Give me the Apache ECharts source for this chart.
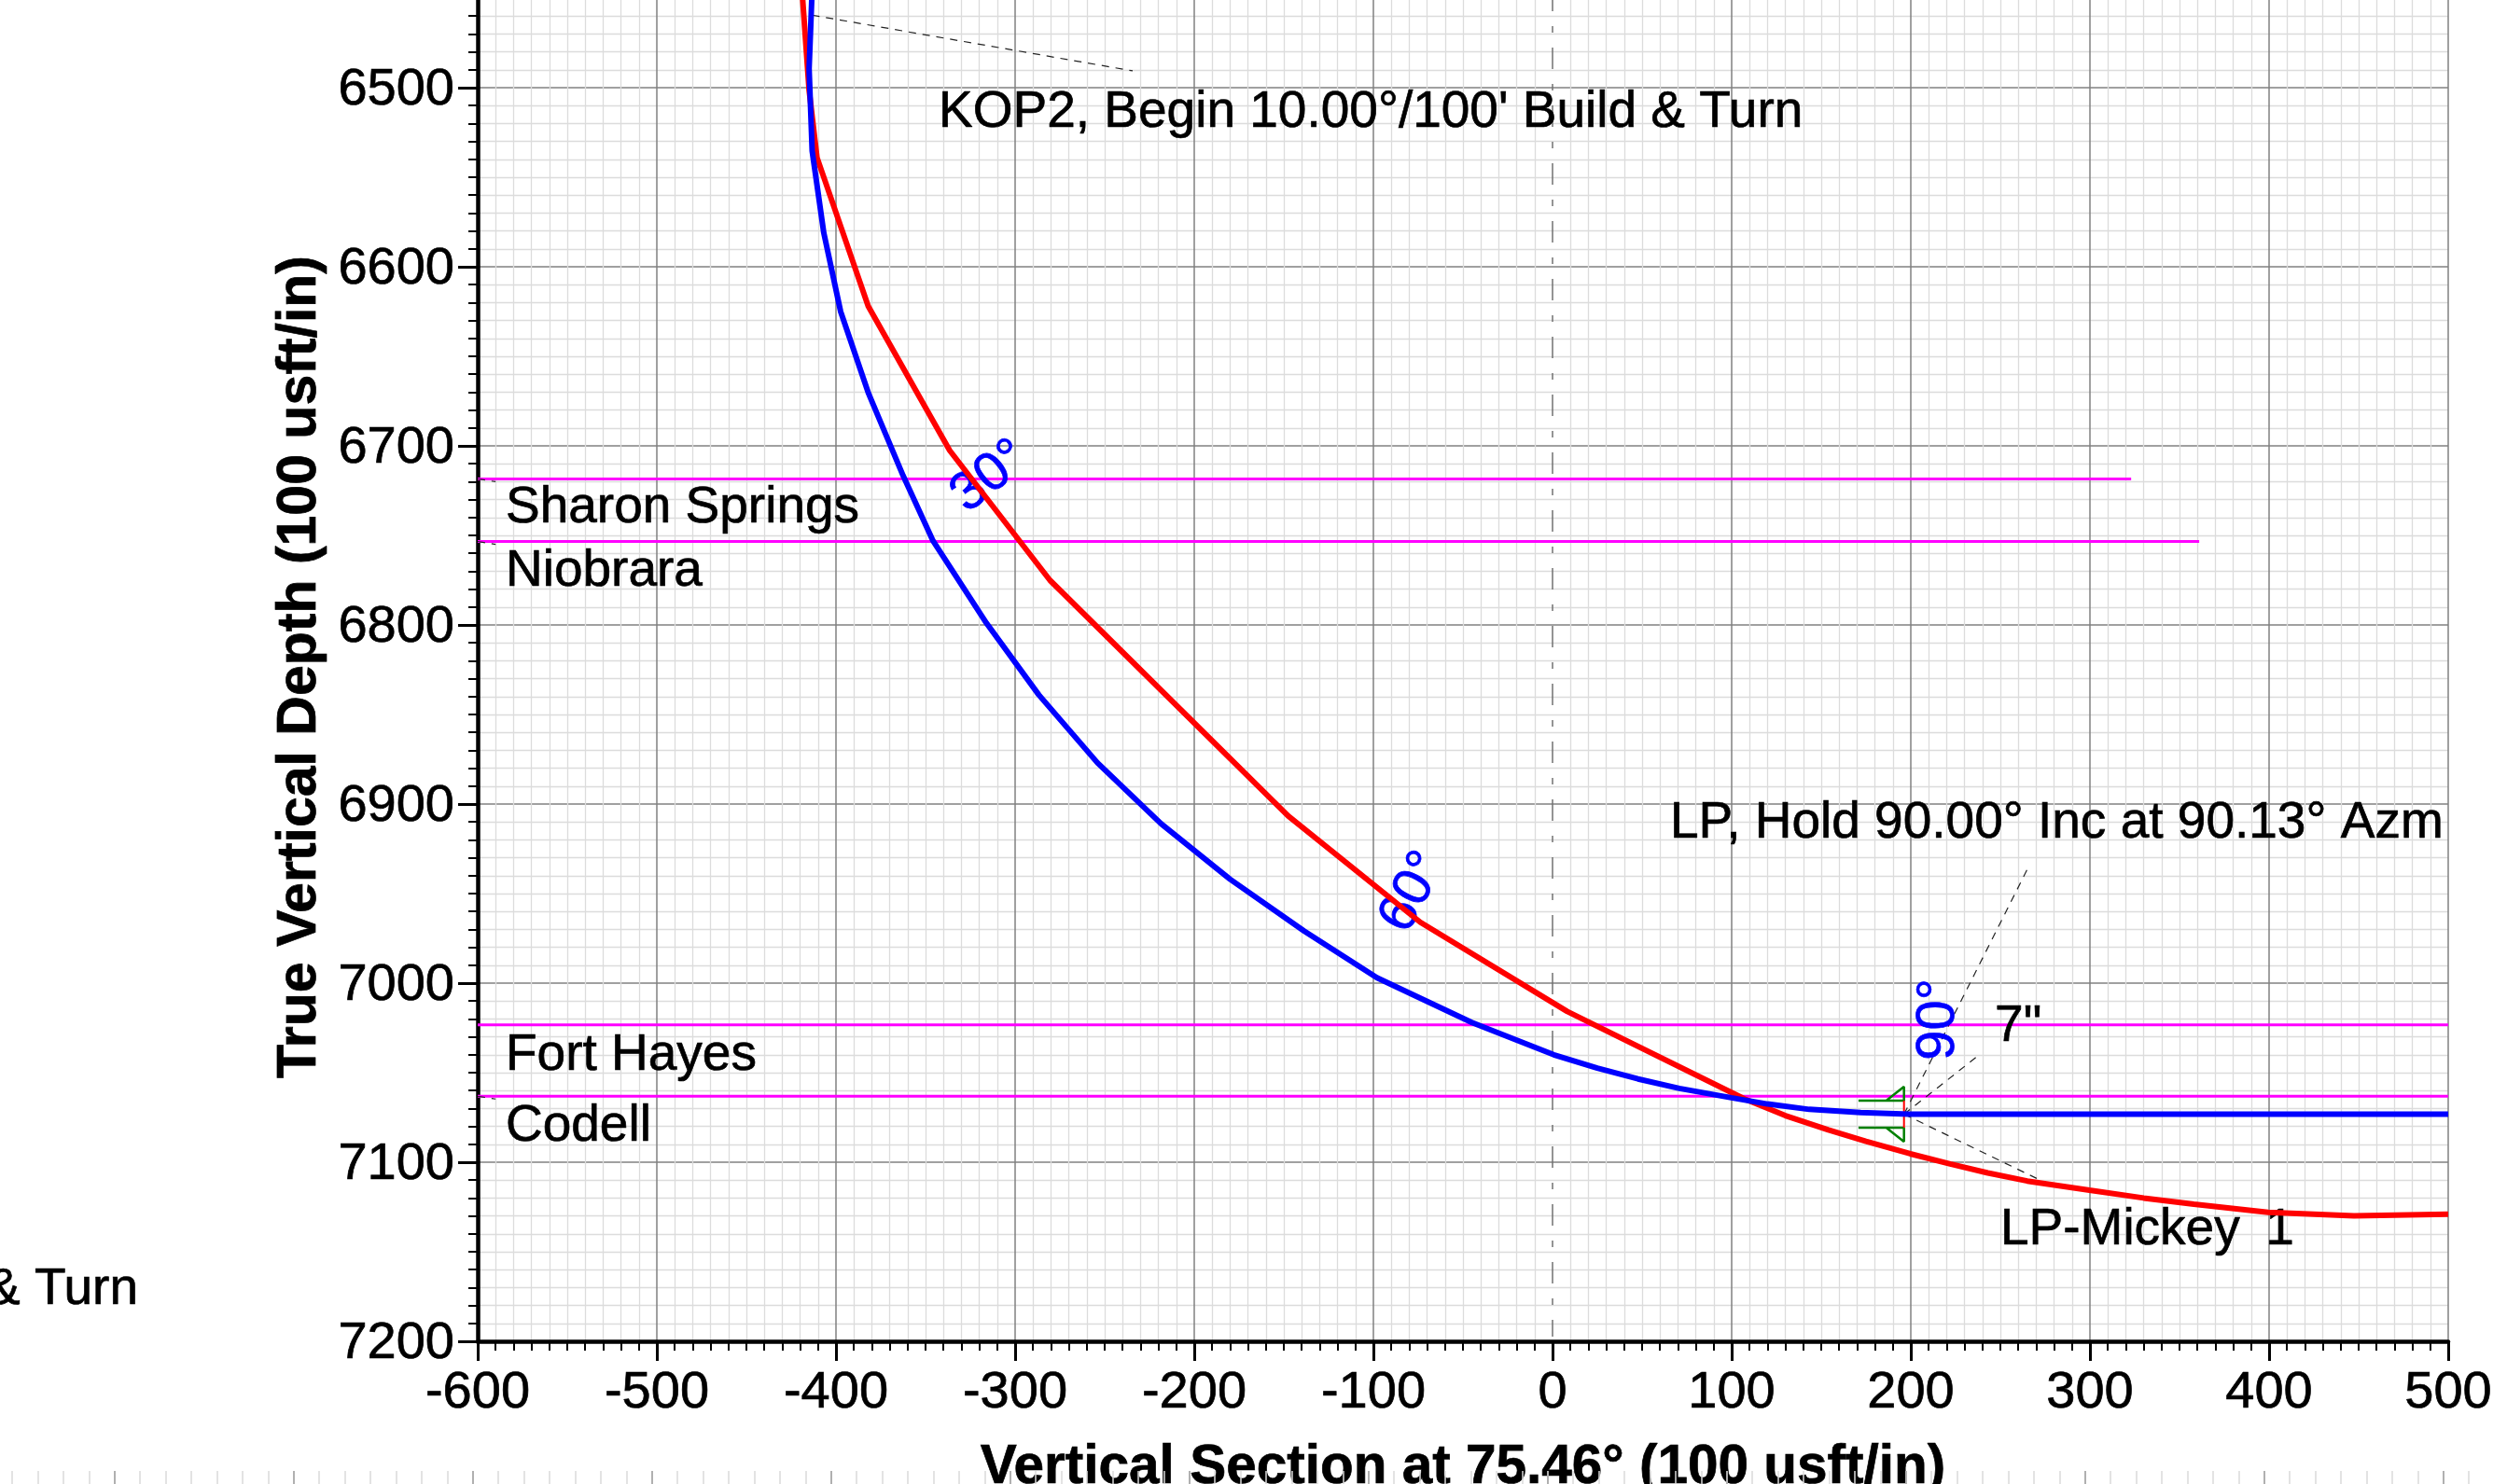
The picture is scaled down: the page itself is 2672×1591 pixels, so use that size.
<!DOCTYPE html>
<html><head><meta charset="utf-8">
<style>html,body{margin:0;padding:0;background:#fff}#c{width:2672px;height:1591px}</style>
<script src="https://cdn.jsdelivr.net/npm/echarts@6/dist/echarts.min.js"></script>
</head><body><div id="c"></div>
<script>
const xTitle = "Vertical Section at 75.46° (100 usft/in)";
const yTitle = "True Vertical Depth (100 usft/in)";
const blueWell = [[-413.3,6445],[-415,6489.4],[-413.3,6535.3],[-406.8,6581.1],[-397.4,6625],[-381.8,6670.8],[-362.5,6716.7],[-345.8,6753.1],[-316,6799],[-286.8,6839],[-254,6877],[-218.5,6911],[-180,6942],[-138.6,6971],[-98,6997],[-45,7022],[0.7,7040],[25,7047.5],[47.7,7053.5],[70.8,7058.8],[99.8,7064],[120,7067.5],[143.3,7070.5],[172,7072.3],[199,7073.2],[500,7073.2]];
const redWell = [[-419,6445],[-415,6501.4],[-410.6,6539],[-382,6622],[-336.5,6702.6],[-280.6,6775],[-147.5,6906.7],[-73.8,6966],[8.2,7015.8],[107,7064.6],[130,7074],[154,7082],[175,7088.3],[199.7,7095.3],[222,7101],[243,7106],[265,7110.5],[299.7,7115.6],[330,7120],[358,7123.4],[399.5,7128],[447.4,7130],[500,7129]];
const formationNames = ["Sharon Springs","Niobrara","Fort Hayes","Codell"];
const formationDepths = [6718.5,6753.4,7023.3,7063.2];
const formationEnds = [323,361,500,500];
const formationLabelY = [6734.6,6770,7040.6,7080.2];
const formationLabelX = -584.4;
const leaders = [
  [[-413.3,6459.5],[-234.4,6490.6]],
  [[196.2,7073.2],[266.3,6933.9]],
  [[196.2,7073.2],[237.5,7040.6]],
  [[196.2,7073.2],[272,7109.9]],
  [[-600,6718.5],[-590,6720]],
  [[-600,6753.4],[-590,6755]],
  [[-600,7063.2],[-590,7064.7]]
];
const notes = [
  ["KOP2, Begin 10.00°/100' Build & Turn",-342.7,6514,"left"],
  ["LP, Hold 90.00° Inc at 90.13° Azm",65.6,6910.9,"left"],
  ['7"',246.9,7024.5,"left"],
  ["LP-Mickey\u20021",250,7138,"left"],
  ["& Turn",-789.6,7171.3,"right"]
];
const inclNotes = [["30°",-314,6717.2,38],["60°",-77.9,6949.2,62],["90°",215.5,7020.3,90]];
const zeroLine = [[0,6445.3],[0,7197.4]];
const casingGreen = [
  [[170.8,7065.6],[196.2,7065.6],[196.2,7057.8],[186.3,7065.6]],
  [[170.8,7080.7],[196.2,7080.7],[196.2,7088.5],[186.3,7080.7]]
];
const casingRed = [[196.2,7065.6],[196.2,7080.7]];
const xRange = [-600,500], yRange = [6400,7200];
const xMajorColors = ['#808080','#808080','#808080','#808080','#808080','#808080','transparent','#808080','#808080','#808080','#808080','#808080'];

const FONT = "Liberation Sans";
const chart = echarts.init(document.getElementById('c'), null, {renderer:'canvas'});
const silent = {silent:true, animation:false};
const lineS = (data,o)=>Object.assign({type:'line',data,symbol:'none',xAxisIndex:0,yAxisIndex:0,clip:true,smooth:false},silent,o);
const textItem = (t,x,y,align,color,rot,size)=>({value:[x,y],label:{show:true,position:'inside',formatter:()=>t,align,verticalAlign:'middle',rotate:rot||0,color,fontFamily:FONT,fontSize:size||55,textBorderColor:color,textBorderWidth:0.7}});
const series = [];
formationDepths.forEach((d,i)=>series.push(lineS([[xRange[0],d],[formationEnds[i],d]],{z:3,lineStyle:{color:'#ff00ff',width:3}})));
series.push(lineS(zeroLine,{z:2,lineStyle:{color:'#707070',width:1.5,type:[23,16,7,16]}}));
leaders.forEach(l=>series.push(lineS(l,{z:4,lineStyle:{color:'#222',width:1.2,type:[8,7]}})));
series.push(Object.assign({type:'scatter',xAxisIndex:0,yAxisIndex:0,z:4,clip:false,symbolSize:1,itemStyle:{color:'transparent',opacity:1},
  data:inclNotes.map(n=>textItem(n[0],n[1],n[2],'center','#0000ff',n[3],58))},silent));
series.push(lineS(redWell,{z:6,lineStyle:{color:'#ff0000',width:6}}));
casingGreen.forEach(c=>series.push(lineS(c,{z:7,lineStyle:{color:'#008000',width:2.5}})));
series.push(lineS(casingRed,{z:7,lineStyle:{color:'#ff0000',width:2}}));
series.push(lineS(blueWell,{z:8,lineStyle:{color:'#0000ff',width:6}}));
series.push(Object.assign({type:'scatter',xAxisIndex:0,yAxisIndex:0,z:5,clip:false,symbolSize:1,itemStyle:{color:'transparent',opacity:1},
  data:notes.map(n=>textItem(n[0],n[1],n[2],n[3],'#000'))
    .concat(formationNames.map((n,i)=>textItem(n,formationLabelX,formationLabelY[i],'left','#000')))},silent));

chart.setOption({
  animation:false,backgroundColor:'#fff',
  grid:[
    {left:512,right:48,top:-98,bottom:153,show:false,outerBoundsMode:'none'},
    {left:-69.3,width:2880,bottom:0,height:14,show:false,outerBoundsMode:'none'}
  ],
  xAxis:[
    {type:'value',gridIndex:0,min:xRange[0],max:xRange[1],interval:100,position:'bottom',
     name:xTitle,nameLocation:'middle',nameGap:106,nameTextStyle:{fontFamily:FONT,fontSize:58.5,fontWeight:'bold',color:'#000',textBorderColor:'#000',textBorderWidth:0.7},
     axisLine:{show:true,onZero:false,lineStyle:{color:'#000',width:4.5}},
     axisTick:{show:true,length:21,lineStyle:{color:'#000',width:3}},
     minorTick:{show:true,splitNumber:10,length:10,lineStyle:{color:'#000',width:2}},
     splitLine:{show:true,lineStyle:{color:xMajorColors,width:1.5}},
     minorSplitLine:{show:true,lineStyle:{color:'#dcdcdc',width:1.3}},
     axisLabel:{show:true,margin:28,fontFamily:FONT,fontSize:56,color:'#000',textBorderColor:'#000',textBorderWidth:0.7,formatter:v=>String(v),showMinLabel:true,showMaxLabel:true,hideOverlap:false}},
    {type:'value',gridIndex:1,min:0,max:1500,interval:100,position:'bottom',
     axisLine:{show:false},axisLabel:{show:false},splitLine:{show:false},
     axisTick:{show:true,inside:true,length:14,lineStyle:{color:'#b0b0b0',width:2}},
     minorTick:{show:true,splitNumber:7,length:14,lineStyle:{color:'#dadada',width:1.5}}}
  ],
  yAxis:[
    {type:'value',gridIndex:0,min:yRange[0],max:yRange[1],interval:100,inverse:true,position:'left',
     name:yTitle,nameLocation:'middle',nameGap:141,nameRotate:90,nameTextStyle:{fontFamily:FONT,fontSize:59,fontWeight:'bold',color:'#000',textBorderColor:'#000',textBorderWidth:0.7,padding:[0,90,0,0]},
     axisLine:{show:true,onZero:false,lineStyle:{color:'#000',width:4.5}},
     axisTick:{show:true,length:21,lineStyle:{color:'#000',width:3}},
     minorTick:{show:true,splitNumber:10,length:10,lineStyle:{color:'#000',width:2}},
     splitLine:{show:true,lineStyle:{color:'#808080',width:1.5}},
     minorSplitLine:{show:true,lineStyle:{color:'#dcdcdc',width:1.3}},
     axisLabel:{show:true,margin:25,verticalAlign:'top',lineHeight:6,fontFamily:FONT,fontSize:56,color:'#000',textBorderColor:'#000',textBorderWidth:0.7,formatter:v=>String(v),showMinLabel:true,showMaxLabel:true,hideOverlap:false}},
    {type:'value',gridIndex:1,min:0,max:1,show:false}
  ],
  series
});
</script></body></html>
